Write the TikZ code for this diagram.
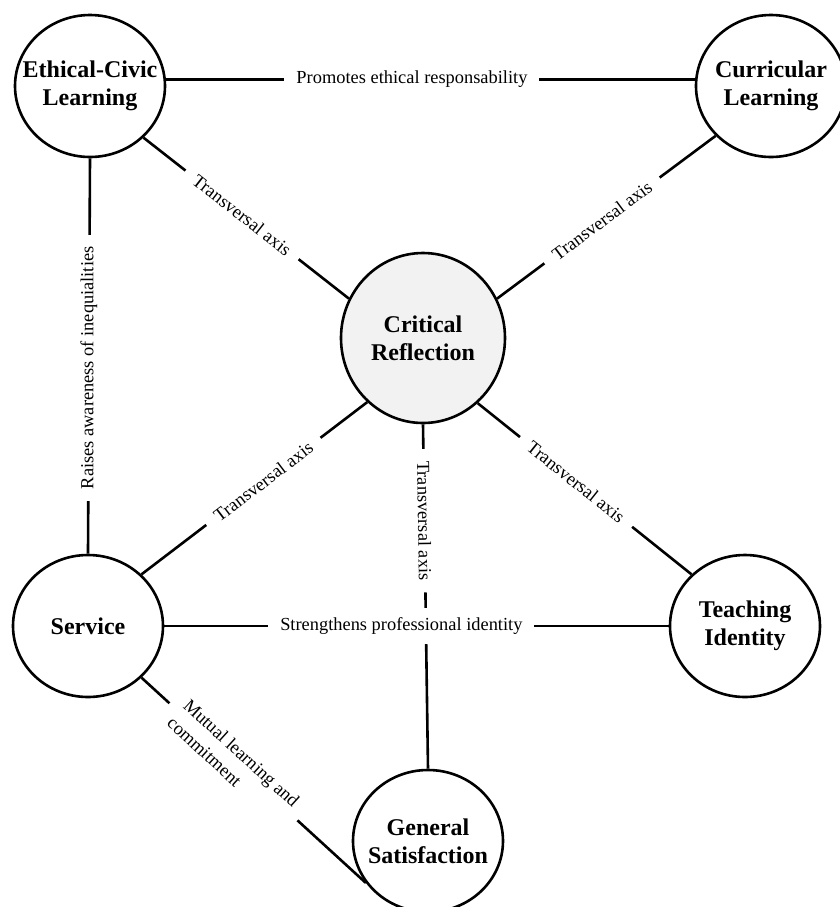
\documentclass[tikz,border=0pt]{standalone}
\usepackage{fontspec}
\setmainfont{Liberation Serif}
\usetikzlibrary{shapes.geometric}

\begin{document}
\begin{tikzpicture}[x=0.5pt, y=-0.5pt, line width=1.3pt]
\tikzstyle{concept}=[draw, ellipse, fill=white, align=center, inner sep=-12pt, minimum width=75pt, minimum height=71pt, font=\fontsize{12}{14}\selectfont\bfseries]
\tikzstyle{core}=[concept, fill=gray!10, minimum width=82pt, minimum height=85pt]
\tikzstyle{lbl}=[fill=white, inner xsep=6pt, inner ysep=5pt, font=\fontsize{9.2}{12}\selectfont]
\useasboundingbox (0,0) rectangle (840,907);
\node[core] (crit) at (423,338) {Critical\\Reflection};
\node[concept] (ethic) at (90,86) {Ethical-Civic\\Learning};
\node[concept] (curric) at (771,86) {Curricular\\Learning};
\node[concept] (serv) at (88,626) {Service};
\node[concept] (teach) at (745,626) {Teaching\\Identity};
\node[concept] (satisf) at (428,841) {General\\Satisfaction};
\draw (ethic.5) -- node[lbl, pos=0.465] {Promotes ethical responsability} (curric.175);
\draw (serv.north) -- node[lbl, pos=0.47, rotate=90] {Raises awareness of inequialities} (ethic.south);
\draw (ethic.-44) -- node[lbl, pos=0.48, sloped] {Transversal axis} (crit.152);
\draw (crit.28) -- node[lbl, pos=0.48, sloped] {Transversal axis} (curric.222);
\draw (crit.229) -- node[lbl, pos=0.46, sloped] {Transversal axis} (serv.44);
\draw (crit.-50) -- node[lbl, pos=0.46, sloped] {Transversal axis} (teach.136);
\draw (crit.south) -- node[lbl, pos=0.28, sloped] {Transversal axis} (satisf.north);
\draw (serv.east) -- node[lbl, pos=0.47] {Strengthens professional identity} (teach.west);
\draw (serv.-44) -- node[lbl, pos=0.41, sloped, align=left] {Mutual learning and\\commitment} (satisf.214);
\end{tikzpicture}
\end{document}
